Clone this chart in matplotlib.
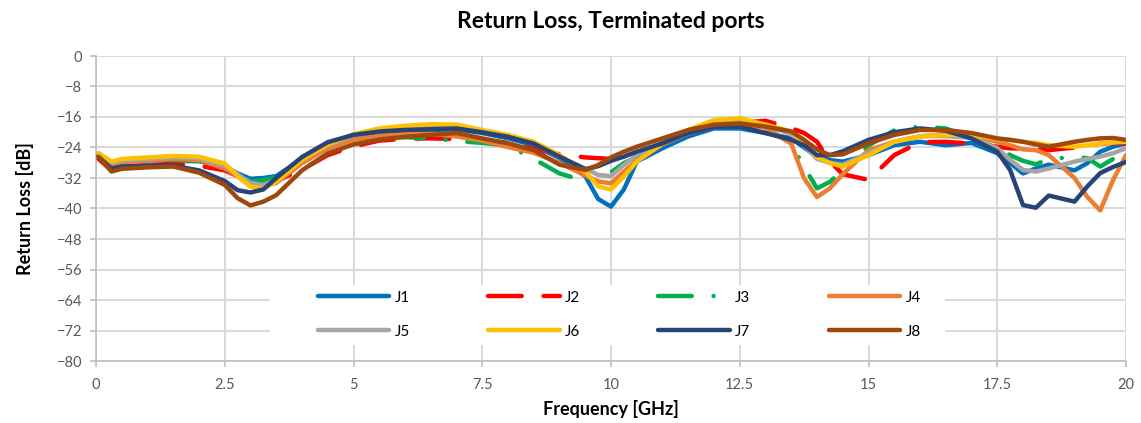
import matplotlib
matplotlib.use("Agg")
import matplotlib.pyplot as plt
from matplotlib.patches import Rectangle

plt.rcParams['font.family'] = ['Lato', 'DejaVu Sans']

# frequências (GHz)
freq = [0.05, 0.3, 0.5, 1, 1.5, 2, 2.5, 2.75, 3, 3.25, 3.5, 4, 4.5, 5, 5.5, 6, 6.5, 7, 7.5, 8, 8.5, 9,
        9.5, 9.75, 10, 10.25, 10.5, 11, 11.5, 12, 12.5, 13, 13.5, 13.75, 14, 14.25, 14.5, 15, 15.5, 16,
        16.5, 17, 17.5, 17.75, 18, 18.25, 18.5, 19, 19.25, 19.5, 19.75, 20]

# return loss de cada porta (dB)
j1 = [-26.0, -28.8, -28.2, -27.8, -27.5, -27.6, -29.0, -30.8, -32.2, -32.0, -31.5, -27.0, -23.4, -21.1, -20.2, -19.6, -19.4, -19.2, -20.2, -21.6, -23.4, -26.8,
      -31.5, -37.5, -39.5, -35.0, -27.7, -24.2, -21.1, -19.0, -19.0, -20.2, -21.6, -24.0, -26.4, -27.3, -27.7, -26.0, -23.4, -22.5,
      -23.4, -22.8, -25.5, -28.1, -30.8, -29.5, -28.5, -30.0, -28.1, -25.1, -23.8, -22.9]
j2 = [-27.0, -30.0, -29.2, -28.8, -28.4, -28.8, -30.0, -31.5, -33.0, -33.2, -32.8, -29.8, -26.0, -23.7, -22.2, -21.7, -21.6, -21.8, -22.1, -22.8, -24.4, -25.8,
      -26.6, -26.8, -27.0, -27.0, -26.0, -22.8, -20.2, -18.5, -17.5, -17.0, -18.9, -20.2, -22.5, -27.7, -31.0, -32.5, -26.0, -22.6,
      -22.5, -23.0, -23.8, -24.2, -24.3, -24.4, -24.7, -24.0, -23.5, -23.0, -22.8, -22.8]
j3 = [-26.0, -28.5, -28.0, -27.8, -27.3, -27.5, -29.5, -31.0, -33.0, -32.5, -32.0, -27.3, -23.8, -22.0, -21.3, -21.3, -21.6, -22.3, -22.8, -23.5, -27.0, -30.8,
      -32.8, -31.6, -30.5, -28.1, -26.5, -23.0, -20.3, -18.3, -17.8, -18.6, -23.0, -29.1, -34.7, -33.0, -30.0, -23.5, -19.5, -18.5,
      -19.0, -21.5, -24.0, -26.0, -27.5, -28.4, -27.0, -26.5, -26.8, -29.0, -27.0, -23.5]
j4 = [-26.0, -28.8, -28.0, -27.6, -27.0, -27.3, -29.5, -31.5, -34.0, -33.8, -33.3, -28.1, -24.2, -22.0, -20.9, -20.5, -20.4, -21.1, -22.2, -23.9, -25.4, -28.1,
      -31.3, -32.9, -33.4, -30.3, -27.5, -23.2, -20.3, -18.3, -17.9, -18.8, -23.0, -32.1, -37.0, -34.7, -31.0, -24.7, -22.5, -21.1,
      -20.5, -21.0, -22.5, -23.4, -24.5, -24.7, -26.0, -32.0, -37.0, -40.5, -32.5, -26.0]
j5 = [-25.5, -28.0, -27.4, -27.0, -26.5, -26.8, -28.8, -31.0, -33.3, -33.8, -32.5, -27.2, -23.4, -20.9, -19.6, -18.9, -18.6, -18.6, -19.8, -21.0, -23.0, -26.5,
      -29.5, -31.2, -31.5, -28.6, -26.0, -22.8, -19.8, -17.2, -16.8, -18.0, -20.5, -23.5, -27.0, -28.0, -28.5, -25.5, -22.5, -21.0,
      -21.0, -21.5, -24.2, -27.2, -29.9, -30.3, -29.5, -27.7, -27.0, -26.4, -25.5, -24.2]
j6 = [-25.5, -27.7, -27.0, -26.6, -26.2, -26.4, -28.2, -31.5, -34.3, -34.7, -33.0, -27.2, -23.2, -20.5, -19.0, -18.3, -17.9, -18.0, -19.4, -20.7, -22.5, -26.0,
      -30.3, -34.2, -35.0, -31.6, -27.7, -22.9, -19.4, -16.8, -16.3, -18.0, -19.8, -22.9, -26.5, -28.1, -29.0, -26.0, -22.5, -21.1,
      -20.7, -20.7, -21.8, -22.0, -22.5, -22.8, -23.4, -23.8, -23.4, -23.0, -22.7, -22.5]
j7 = [-26.5, -29.5, -29.0, -28.8, -28.8, -30.0, -32.8, -35.2, -35.8, -35.0, -32.0, -26.5, -22.6, -20.7, -19.8, -19.4, -19.2, -19.0, -20.0, -21.2, -23.0, -26.4,
      -29.7, -28.9, -27.5, -26.4, -25.1, -22.9, -20.2, -18.5, -18.5, -20.2, -22.0, -23.4, -26.0, -26.0, -25.0, -22.0, -20.0, -19.0,
      -19.6, -21.6, -25.1, -29.9, -39.1, -39.8, -36.6, -38.2, -34.2, -30.7, -29.1, -27.8]
j8 = [-26.4, -30.3, -29.6, -29.2, -29.0, -30.6, -33.8, -37.3, -39.2, -38.2, -36.5, -30.0, -25.5, -23.2, -21.9, -21.2, -20.7, -20.2, -21.6, -22.9, -24.7, -28.5,
      -29.9, -28.6, -26.6, -25.1, -23.8, -21.6, -19.4, -18.0, -17.7, -18.5, -19.8, -22.0, -24.5, -26.0, -25.8, -22.9, -20.7, -19.4,
      -19.4, -20.2, -21.6, -22.0, -22.5, -23.2, -23.8, -22.5, -22.0, -21.6, -21.5, -22.0]

series = [j1, j2, j3, j4, j5, j6, j7, j8]
nomes = ["J1", "J2", "J3", "J4", "J5", "J6", "J7", "J8"]
cores = ["#0070C0", "#FF0000", "#00B050", "#ED7D31", "#A5A5A5", "#FFC000", "#264478", "#9E480E"]
tracos = [None, [7.6, 4.9], [7.6, 4.9, 0.01, 4.9], None, None, None, None, None]

fig = plt.figure(figsize=(11.41, 4.23), dpi=100)
ax = fig.add_axes([96 / 1141, 62 / 423, 1030 / 1141, 305 / 423])

linhas = []
for y, nome, cor, tr in zip(series, nomes, cores, tracos):
    linha, = ax.plot(freq, y, color=cor, lw=3.2, label=nome, zorder=3,
                     solid_capstyle='round', dash_capstyle='round', solid_joinstyle='round')
    if tr is not None:
        linha.set_dashes(tr)
    linhas.append(linha)

ax.set_xlim(0, 20)
ax.set_ylim(-80, 0)
ax.set_xticks([0, 2.5, 5, 7.5, 10, 12.5, 15, 17.5, 20])
ax.set_xticklabels(["0", "2.5", "5", "7.5", "10", "12.5", "15", "17.5", "20"])
ax.set_yticks(range(0, -81, -8))
ax.grid(True, color="#D9D9D9", lw=1.4, zorder=0)
ax.set_axisbelow(True)
for s in ["top", "right"]:
    ax.spines[s].set_visible(False)
for s in ["left", "bottom"]:
    ax.spines[s].set_color("#BFBFBF")
    ax.spines[s].set_linewidth(1.2)
ax.tick_params(axis="both", colors="#BFBFBF", labelcolor="#595959", labelsize=10.5, length=4, width=1.2)
ax.tick_params(axis="x", pad=8)
ax.tick_params(axis="y", pad=6)

ax.set_title("Return Loss, Terminated ports", fontsize=16.5, fontweight="bold", color="#000000", pad=20)
ax.set_xlabel("Frequency [GHz]", fontsize=13, fontweight="bold", labelpad=6)
ax.set_ylabel("Return Loss [dB]", fontsize=13, fontweight="bold", labelpad=16)

# caixa branca da legenda
ax.add_patch(Rectangle((0.169, 0.052), 0.655, 0.197, transform=ax.transAxes,
                       facecolor="white", edgecolor="none", zorder=4))
# ordem por linhas: J1 J2 J3 J4 / J5 J6 J7 J8
ordem = [0, 4, 1, 5, 2, 6, 3, 7]
leg = ax.legend([linhas[i] for i in ordem], [nomes[i] for i in ordem],
                ncol=4, loc="center", bbox_to_anchor=(0.508, 0.152), frameon=False,
                fontsize=11, handlelength=4.7, handletextpad=0.35, columnspacing=5.1,
                labelspacing=1.3)
leg.set_zorder(5)

fig.savefig("out.png", dpi=100)
